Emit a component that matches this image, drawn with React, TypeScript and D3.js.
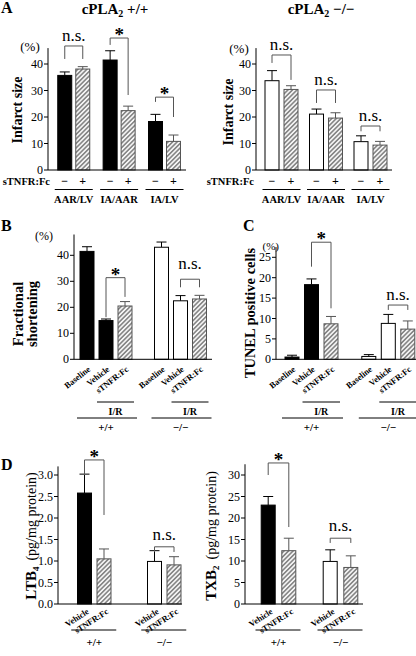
import React from "react";
import * as d3 from "d3";

const FONT = "'Liberation Serif','Times New Roman',Times,serif";

// ---------- Panel A: infarct size ----------
const infarctGroups = ["AAR/LV", "IA/AAR", "IA/LV"];
const infarctTreatments = ["−", "+"];
const infarctTicks = [0, 10, 20, 30, 40];
const wtVehicleInfarct = [35.7, 41.5, 18.3];
const wtVehicleInfarctErr = [1.3, 3.5, 2.7];
const wtSTNFRInfarct = [38.1, 22.4, 10.8];
const wtSTNFRInfarctErr = [0.9, 1.7, 2.4];
const koVehicleInfarct = [33.7, 21.1, 10.7];
const koVehicleInfarctErr = [3.8, 1.9, 2.2];
const koSTNFRInfarct = [30.4, 19.6, 9.4];
const koSTNFRInfarctErr = [1.4, 2.0, 1.4];

// ---------- Panels B & C ----------
const genotypes = ["+/+", "−/−"];
const ischemiaConditions = ["Baseline", "Vehicle", "sTNFR:Fc"];
const fsTicks = [0, 10, 20, 30, 40];
const fsWt = [41.5, 14.9, 20.5];
const fsWtErr = [1.8, 0.6, 1.7];
const fsKo = [43.1, 22.5, 23.2];
const fsKoErr = [2.0, 2.0, 1.4];
const tunelTicks = [0, 5, 10, 15, 20, 25];
const tunelWt = [0.55, 18.3, 8.7];
const tunelWtErr = [0.45, 1.4, 1.8];
const tunelKo = [0.7, 8.8, 7.4];
const tunelKoErr = [0.45, 2.2, 2.0];

// ---------- Panel D ----------
const eicConditions = ["Vehicle", "sTNFR:Fc"];
const ltbTicks = [0, 0.5, 1.0, 1.5, 2.0, 2.5, 3.0];
const ltbWt = [2.58, 1.05];
const ltbWtErr = [0.44, 0.23];
const ltbKo = [0.99, 0.91];
const ltbKoErr = [0.25, 0.19];
const txbTicks = [0, 5, 10, 15, 20, 25, 30];
const txbWt = [23.0, 12.4];
const txbWtErr = [2.0, 2.9];
const txbKo = [9.9, 8.5];
const txbKoErr = [2.7, 2.7];

// ---------- Significance brackets (data units) ----------
const infarctWtBrackets = [
  { group: "AAR/LV", top: 46.8, left: 41.9, right: 41.9, label: "n.s." },
  { group: "IA/AAR", top: 49.8, left: 47.2, right: 28.3, label: "*" },
  { group: "IA/LV", top: 27.5, left: 25.7, right: 20.0, label: "*" },
];
const infarctKoBrackets = [
  { group: "AAR/LV", top: 43.4, left: 40.4, right: 34.0, label: "n.s." },
  { group: "IA/AAR", top: 30.2, left: 25.3, right: 25.3, label: "n.s." },
  { group: "IA/LV", top: 16.6, left: 14.6, right: 14.6, label: "n.s." },
];
const fsBrackets = [
  { group: "+/+", top: 31.4, left: 16.2, right: 24.0, label: "*" },
  { group: "−/−", top: 30.8, left: 27.7, right: 27.7, label: "n.s." },
];
const tunelBrackets = [
  { group: "+/+", top: 28.7, left: 22.7, right: 12.5, label: "*" },
  { group: "−/−", top: 13.3, left: 12.1, right: 12.1, label: "n.s." },
];
const ltbBrackets = [
  { group: "+/+", top: 3.35, left: 3.0, right: 2.07, label: "*" },
  { group: "−/−", top: 1.33, left: 1.21, right: 1.21, label: "n.s." },
];
const txbBrackets = [
  { group: "+/+", top: 32.8, left: 30.0, right: 17.9, label: "*" },
  { group: "−/−", top: 15.3, left: 14.2, right: 14.2, label: "n.s." },
];

type Bar = { group: string; cond: string; value: number; err: number; fill: string };
type Bracket = { group: string; top: number; left: number; right: number; label: string };

const BAR_W = 14;

function fillFor(cond: string, wt: boolean) {
  if (cond === "+" || cond === "sTNFR:Fc") return "url(#hatch)";
  return wt ? "#000" : "#fff";
}

function Panel(props: {
  axisX: number;
  baseEnd: number;
  y: d3.ScaleLinear<number, number>;
  yMax: number;
  ticks: number[];
  fmt: (v: number) => string;
  gx: d3.ScalePoint<string>;
  cx: d3.ScalePoint<string>;
  bars: Bar[];
  brackets: Bracket[];
  pair: [string, string];
  nsGap: number;
}) {
  const { axisX, baseEnd, y, yMax, ticks, fmt, gx, cx, bars, brackets, pair, nsGap } = props;
  const y0 = y(0);
  const xc = (g: string, c: string) => (gx(g) as number) + (cx(c) as number);
  return (
    <g>
      {bars.map((b, i) => {
        const x = xc(b.group, b.cond);
        const hatched = b.fill.startsWith("url");
        return (
          <g key={i}>
            <line x1={x} x2={x} y1={y(b.value)} y2={y(b.value + b.err)} stroke={hatched ? "#555" : "#000"} strokeWidth={1} />
            <line x1={x - 5} x2={x + 5} y1={y(b.value + b.err)} y2={y(b.value + b.err)} stroke={hatched ? "#555" : "#000"} strokeWidth={1} />
            <rect x={x - BAR_W / 2} y={y(b.value)} width={BAR_W} height={y0 - y(b.value)} fill={b.fill} stroke={hatched ? "#555" : "#000"} strokeWidth={1} />
          </g>
        );
      })}
      <line x1={axisX} x2={axisX} y1={y0} y2={y(yMax)} stroke="#000" strokeWidth={1} />
      <line x1={axisX} x2={baseEnd} y1={y0} y2={y0} stroke="#000" strokeWidth={1} />
      {ticks.map((t) => (
        <g key={t}>
          <line x1={axisX - 4} x2={axisX} y1={y(t)} y2={y(t)} stroke="#000" />
          <text x={axisX - 5} y={y(t) + 4} textAnchor="end" fontSize={12}>
            {fmt(t)}
          </text>
        </g>
      ))}
      {brackets.map((br, i) => {
        const xl = xc(br.group, pair[0]);
        const xr = xc(br.group, pair[1]);
        const isStar = br.label === "*";
        return (
          <g key={i}>
            <path
              d={`M${xl},${y(br.left)}V${y(br.top)}H${xr}V${y(br.right)}`}
              fill="none"
              stroke="#555"
              strokeWidth={1}
            />
            <text
              x={(xl + xr) / 2}
              y={isStar ? y(br.top) + 3 : y(br.top) - nsGap}
              textAnchor="middle"
              fontSize={isStar ? 19 : 17}
              fontWeight={isStar ? "bold" : "normal"}
            >
              {br.label}
            </text>
          </g>
        );
      })}
    </g>
  );
}

function makeBars(groups: string[], conds: string[], series: number[][], errs: number[][], wtFlags: boolean[]): Bar[] {
  const out: Bar[] = [];
  groups.forEach((g, gi) => {
    conds.forEach((c, ci) => {
      out.push({ group: g, cond: c, value: series[ci][gi], err: errs[ci][gi], fill: fillFor(c, wtFlags[gi]) });
    });
  });
  return out;
}

function makeGenotypeBars(conds: string[], wt: number[], wtErr: number[], ko: number[], koErr: number[]): Bar[] {
  const out: Bar[] = [];
  conds.forEach((c, ci) => out.push({ group: genotypes[0], cond: c, value: wt[ci], err: wtErr[ci], fill: fillFor(c, true) }));
  conds.forEach((c, ci) => out.push({ group: genotypes[1], cond: c, value: ko[ci], err: koErr[ci], fill: fillFor(c, false) }));
  return out;
}

export default function App() {
  const fmtInt = d3.format("d");
  const fmt1 = d3.format(".1f");

  const yA = d3.scaleLinear().domain([0, 40]).range([170, 64]);
  const gxAwt = d3.scalePoint<string>().domain(infarctGroups).range([73.75, 164.5]);
  const gxAko = d3.scalePoint<string>().domain(infarctGroups).range([281.5, 370.5]);
  const cxAwt = d3.scalePoint<string>().domain(infarctTreatments).range([-9, 9]);
  const cxAko = d3.scalePoint<string>().domain(infarctTreatments).range([-9.5, 9.5]);
  const aWtBars = makeBars(infarctGroups, infarctTreatments, [wtVehicleInfarct, wtSTNFRInfarct], [wtVehicleInfarctErr, wtSTNFRInfarctErr], [true, true, true]);
  const aKoBars = makeBars(infarctGroups, infarctTreatments, [koVehicleInfarct, koSTNFRInfarct], [koVehicleInfarctErr, koSTNFRInfarctErr], [false, false, false]);

  const yB = d3.scaleLinear().domain([0, 40]).range([359.3, 255.3]);
  const gxB = d3.scalePoint<string>().domain(genotypes).range([106, 180.5]);
  const cxBC = d3.scalePoint<string>().domain(ischemiaConditions).range([-19, 19]);
  const bBars = makeGenotypeBars(ischemiaConditions, fsWt, fsWtErr, fsKo, fsKoErr);

  const yC = d3.scaleLinear().domain([0, 25]).range([359.3, 257.3]);
  const gxC = d3.scalePoint<string>().domain(genotypes).range([311.5, 388.3]);
  const cxC = d3.scalePoint<string>().domain(ischemiaConditions).range([-19.5, 19.5]);
  const cBars = makeGenotypeBars(ischemiaConditions, tunelWt, tunelWtErr, tunelKo, tunelKoErr);

  const yDl = d3.scaleLinear().domain([0, 3]).range([604, 475]);
  const gxDl = d3.scalePoint<string>().domain(genotypes).range([94.25, 164.25]);
  const cxDl = d3.scalePoint<string>().domain(eicConditions).range([-9.75, 9.75]);
  const dlBars = makeGenotypeBars(eicConditions, ltbWt, ltbWtErr, ltbKo, ltbKoErr);
  const yDr = d3.scaleLinear().domain([0, 30]).range([604, 475]);
  const gxDr = d3.scalePoint<string>().domain(genotypes).range([278.5, 340.5]);
  const cxDr = d3.scalePoint<string>().domain(eicConditions).range([-10.3, 10.3]);
  const drBars = makeGenotypeBars(eicConditions, txbWt, txbWtErr, txbKo, txbKoErr);

  const aLabels = (gx: d3.ScalePoint<string>, cx: d3.ScalePoint<string>, labelX: number) => (
    <g fontWeight="bold">
      <text x={labelX} y={185} textAnchor="end" fontSize={10.5}>sTNFR:Fc</text>
      {infarctGroups.map((g) => (
        <g key={g}>
          {infarctTreatments.map((c) => (
            <text key={c} x={(gx(g) as number) + (cx(c) as number)} y={185} textAnchor="middle" fontSize={12}>
              {c}
            </text>
          ))}
          <line x1={(gx(g) as number) - 19} x2={(gx(g) as number) + 19} y1={189.5} y2={189.5} stroke="#000" />
          <text x={gx(g) as number} y={203} textAnchor="middle" fontSize={10.5}>{g}</text>
        </g>
      ))}
    </g>
  );

  const bcLabels = (gx: d3.ScalePoint<string>, cx: d3.ScalePoint<string>, y0: number) => (
    <g fontWeight="bold">
      {genotypes.map((g) => {
        const c0 = gx(g) as number;
        const xb = c0 + (cx("Baseline") as number);
        const xv = c0 + (cx("Vehicle") as number);
        const xs = c0 + (cx("sTNFR:Fc") as number);
        return (
          <g key={g}>
            {ischemiaConditions.map((c) => {
              const x = c0 + (cx(c) as number);
              return (
                <text key={c} transform={`translate(${x + 4},${y0 + 11}) rotate(-38)`} textAnchor="end" fontSize={8.5}>
                  {c}
                </text>
              );
            })}
            <line x1={xv - 9} x2={xs + 9} y1={402} y2={402} stroke="#000" />
            <text x={(xv + xs) / 2} y={415} textAnchor="middle" fontSize={10}>I/R</text>
            <line x1={xb - 10} x2={xs + 12} y1={418} y2={418} stroke="#000" />
            <text x={c0} y={431} textAnchor="middle" fontSize={11}>{g}</text>
          </g>
        );
      })}
    </g>
  );

  const dLabels = (gx: d3.ScalePoint<string>, cx: d3.ScalePoint<string>, y0: number) => (
    <g fontWeight="bold">
      {genotypes.map((g) => {
        const c0 = gx(g) as number;
        return (
          <g key={g}>
            {eicConditions.map((c) => {
              const x = c0 + (cx(c) as number);
              return (
                <text key={c} transform={`translate(${x + 5},${y0 + 9}) rotate(-33)`} textAnchor="end" fontSize={8.5}>
                  {c}
                </text>
              );
            })}
            <line x1={c0 - 23} x2={c0 + 22} y1={630} y2={630} stroke="#000" />
            <text x={c0} y={646} textAnchor="middle" fontSize={11}>{g}</text>
          </g>
        );
      })}
    </g>
  );

  return (
    <div style={{ position: "absolute", left: 0, top: 0 }}>
      <svg width={416} height={656} fontFamily={FONT} style={{ display: "block", background: "#fff", fontFamily: FONT }}>
        <defs>
          <pattern id="hatch" patternUnits="userSpaceOnUse" width={3.2} height={3.2} patternTransform="rotate(45)">
            <rect width={3.2} height={3.2} fill="#f4f4f4" />
            <line x1={1.6} x2={1.6} y1={0} y2={3.2} stroke="#555" strokeWidth={1.1} />
          </pattern>
        </defs>

        <g fontWeight="bold" fontSize={16}>
          <text x={1} y={13}>A</text>
          <text x={1} y={231}>B</text>
          <text x={243} y={231}>C</text>
          <text x={1} y={470}>D</text>
        </g>

        <text x={115} y={14} textAnchor="middle" fontWeight="bold" fontSize={15}>
          cPLA<tspan fontSize={10} dy={3}>2</tspan>
          <tspan dy={-3}> +/+</tspan>
        </text>
        <text x={321} y={14} textAnchor="middle" fontWeight="bold" fontSize={15}>
          cPLA<tspan fontSize={10} dy={3}>2</tspan>
          <tspan dy={-3}> −/−</tspan>
        </text>

        <Panel axisX={48} baseEnd={186} y={yA} yMax={46} ticks={infarctTicks} fmt={fmtInt} gx={gxAwt} cx={cxAwt}
          bars={aWtBars} brackets={infarctWtBrackets} pair={["−", "+"]} nsGap={5} />
        <text x={30} y={51} textAnchor="middle" fontSize={13}>(%)</text>
        <text transform="translate(22,110) rotate(-90)" textAnchor="middle" fontWeight="bold" fontSize={14}>Infarct size</text>
        {aLabels(gxAwt, cxAwt, 50)}

        <Panel axisX={256} baseEnd={392} y={yA} yMax={46} ticks={infarctTicks} fmt={fmtInt} gx={gxAko} cx={cxAko}
          bars={aKoBars} brackets={infarctKoBrackets} pair={["−", "+"]} nsGap={5} />
        <text x={239} y={53} textAnchor="middle" fontSize={13}>(%)</text>
        <text transform="translate(233,112) rotate(-90)" textAnchor="middle" fontWeight="bold" fontSize={14}>Infarct size</text>
        {aLabels(gxAko, cxAko, 254)}

        <Panel axisX={74} baseEnd={212} y={yB} yMax={48} ticks={fsTicks} fmt={fmtInt} gx={gxB} cx={cxBC}
          bars={bBars} brackets={fsBrackets} pair={["Vehicle", "sTNFR:Fc"]} nsGap={10} />
        <text x={44} y={240} textAnchor="middle" fontSize={12}>(%)</text>
        <text transform="translate(23,314) rotate(-90)" textAnchor="middle" fontWeight="bold" fontSize={14.5}>Fractional</text>
        <text transform="translate(37,314) rotate(-90)" textAnchor="middle" fontWeight="bold" fontSize={14.5}>shortening</text>
        {bcLabels(gxB, cxBC, yB(0))}

        <Panel axisX={276} baseEnd={416} y={yC} yMax={27.5} ticks={tunelTicks} fmt={fmtInt} gx={gxC} cx={cxC}
          bars={cBars} brackets={tunelBrackets} pair={["Vehicle", "sTNFR:Fc"]} nsGap={5} />
        <text x={279} y={249.5} textAnchor="end" fontSize={11}>(%)</text>
        <text transform="translate(255,313) rotate(-90)" textAnchor="middle" fontWeight="bold" fontSize={14.5}>TUNEL positive cells</text>
        {bcLabels(gxC, cxC, yC(0))}

        <Panel axisX={58} baseEnd={182} y={yDl} yMax={3.2} ticks={ltbTicks} fmt={fmt1} gx={gxDl} cx={cxDl}
          bars={dlBars} brackets={ltbBrackets} pair={["Vehicle", "sTNFR:Fc"]} nsGap={7} />
        <text transform="translate(36,536) rotate(-90)" textAnchor="middle">
          <tspan fontWeight="bold" fontSize={15}>LTB</tspan>
          <tspan fontWeight="bold" fontSize={9} dy={3}>4</tspan>
          <tspan fontSize={14} dy={-3} dx={6}>(pg/mg protein)</tspan>
        </text>
        {dLabels(gxDl, cxDl, yDl(0))}

        <Panel axisX={245} baseEnd={363} y={yDr} yMax={32.5} ticks={txbTicks} fmt={fmtInt} gx={gxDr} cx={cxDr}
          bars={drBars} brackets={txbBrackets} pair={["Vehicle", "sTNFR:Fc"]} nsGap={7} />
        <text transform="translate(216,536) rotate(-90)" textAnchor="middle">
          <tspan fontWeight="bold" fontSize={15}>TXB</tspan>
          <tspan fontWeight="bold" fontSize={9} dy={3}>2</tspan>
          <tspan fontSize={14} dy={-3} dx={6}>(pg/mg protein)</tspan>
        </text>
        {dLabels(gxDr, cxDr, yDr(0))}
      </svg>
    </div>
  );
}
